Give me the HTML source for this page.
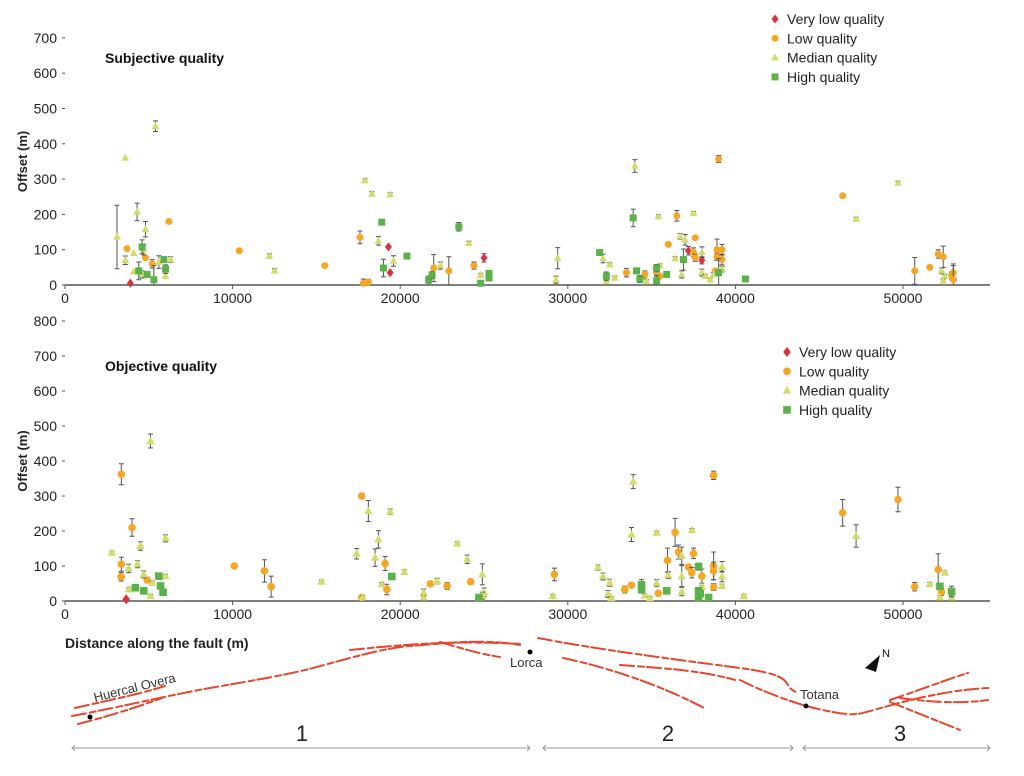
<!DOCTYPE html>
<html><head><meta charset="utf-8"><style>
body{margin:0;background:#fff;}
svg{display:block;font-family:"Liberation Sans",sans-serif;}
</style></head><body>
<svg id="fig" width="1024" height="776" viewBox="0 0 1024 776">
<g id="top"></g>
<g id="bot"></g>
<g id="map">
  <g fill="none" stroke="#e8452c" stroke-width="2" stroke-dasharray="14 4 6 3" stroke-linecap="round">
    <path d="M72,716 C130,705 170,695 210,688 S280,676 305,670 S380,648 410,646 S480,638 520,645"/>
    <path d="M75,708 C110,700 140,694 165,686"/>
    <path d="M78,724 C110,716 140,706 162,698"/>
    <path d="M350,650 C400,645 450,640 520,644"/>
    <path d="M440,642 C460,648 480,654 500,657"/>
    <path d="M538,638 C600,650 680,660 740,668 S780,685 796,692"/>
    <path d="M563,658 C620,670 670,690 704,708"/>
    <path d="M620,665 C660,668 700,670 735,680"/>
    <path d="M740,680 C760,690 780,698 806,706"/>
    <path d="M806,706 C830,712 845,715 857,714 S930,690 990,688"/>
    <path d="M890,700 C920,690 945,680 968,673"/>
    <path d="M890,702 C915,712 935,720 960,730"/>
    <path d="M900,698 C930,702 960,704 988,700"/>
  </g>
  <circle cx="90" cy="717" r="2.5" fill="#000"/>
  <text x="95" y="702" font-size="13" fill="#333" transform="rotate(-14 95 702)">Huercal Overa</text>
  <circle cx="530" cy="652" r="2.5" fill="#000"/>
  <text x="510" y="667" font-size="13" fill="#333">Lorca</text>
  <circle cx="806" cy="706" r="2.5" fill="#000"/>
  <text x="800" y="699" font-size="13" fill="#333">Totana</text>
  <path d="M865,668 L880,655 L876,672 Z" fill="#111"/>
  <text x="882" y="657" font-size="11" fill="#111">N</text>
  <g stroke="#999" stroke-width="1" fill="none">
    <path d="M72,748 H530 M75,745 L72,748 L75,751 M527,745 L530,748 L527,751"/>
    <path d="M543,748 H793 M546,745 L543,748 L546,751 M790,745 L793,748 L790,751"/>
    <path d="M803,748 H990 M806,745 L803,748 L806,751 M987,745 L990,748 L987,751"/>
  </g>
  <text x="302" y="741" font-size="22" text-anchor="middle" fill="#222">1</text>
  <text x="668" y="741" font-size="22" text-anchor="middle" fill="#222">2</text>
  <text x="900" y="741" font-size="22" text-anchor="middle" fill="#222">3</text>
</g>
<text x="65" y="648" font-size="14" font-weight="bold" fill="#222">Distance along the fault (m)</text>
</svg>
<script>
// values: [distance (m), offset (m), error half-width (m)]
const subjVeryLow = [[3900,5,0],[19300,108,0],[19400,35,0],[25000,77,12],[37200,97,12],[38000,70,10]];
const subjLow = [[3700,103,0],[4800,77,0],[5200,60,12],[6200,180,6],[10400,97,0],[15500,55,0],[17600,135,18],[17800,5,12],[18100,8,8],[22000,48,38],[22900,40,40],[24400,55,10],[33500,35,12],[34600,30,10],[35300,35,10],[36000,115,0],[36500,196,15],[37500,93,12],[37600,134,0],[37600,77,10],[38900,100,30],[38900,80,10],[39200,100,15],[39200,72,15],[38800,40,0],[39000,357,10],[35500,25,0],[46400,253,0],[50700,40,38],[51600,50,0],[52100,88,12],[52400,80,30],[52900,27,10],[53000,35,25],[53000,15,40]];
const subjMedian = [[3100,136,90],[3600,360,0],[3600,70,12],[4100,90,0],[4300,207,25],[4700,100,15],[4800,158,22],[4100,38,0],[4600,30,10],[5400,450,15],[5600,65,18],[6000,25,0],[6300,72,8],[12200,82,6],[12500,40,6],[17900,296,5],[18300,258,6],[18700,125,12],[19600,68,15],[19400,256,5],[22400,55,10],[24100,118,6],[24800,28,5],[29400,76,30],[29300,15,10],[32100,75,12],[32300,10,5],[32500,58,5],[32800,20,5],[34000,337,18],[34700,10,5],[35400,194,5],[35500,55,5],[36400,75,5],[36700,138,8],[36800,30,10],[37000,128,15],[37500,203,5],[38000,93,15],[38000,35,10],[38200,25,5],[38500,15,5],[38700,30,5],[39200,45,8],[47200,187,5],[49700,289,5],[52300,40,8],[52500,25,5],[52400,12,5]];
const subjHigh = [[4600,108,20],[4400,40,25],[4900,30,5],[5300,15,40],[5900,72,5],[6000,45,12],[18900,178,0],[19000,48,25],[20400,82,0],[21700,15,10],[21900,28,10],[23500,165,12],[24800,5,0],[25300,33,5],[25300,20,5],[31900,92,8],[32300,25,12],[33900,190,25],[34100,40,5],[34300,17,10],[35300,48,10],[35300,12,15],[35900,30,0],[36900,72,30],[39000,35,40],[40600,17,0]];

const objVeryLow = [[3650,5,0]];
const objLow = [[3360,362,30],[3360,105,20],[3350,69,12],[4000,210,25],[4900,60,8],[10100,100,6],[11900,86,32],[12300,41,30],[17700,300,8],[17700,10,6],[19100,107,20],[19200,33,15],[21800,49,5],[22800,43,10],[24200,55,8],[29200,76,18],[33400,33,10],[33800,45,5],[35400,22,5],[35950,116,35],[36400,196,40],[36600,140,20],[37200,97,5],[37400,81,15],[37500,136,15],[38000,71,20],[38700,359,12],[38700,100,40],[38700,86,25],[38700,40,10],[46400,252,38],[49700,290,35],[50700,41,12],[52100,90,45],[52300,26,10]];
const objMedian = [[2800,138,5],[3800,93,12],[3800,33,5],[4330,105,10],[4500,157,12],[4700,76,10],[5100,457,20],[5100,14,5],[5200,52,5],[6000,179,10],[6000,71,5],[15300,55,5],[17400,135,15],[17750,10,5],[18100,257,30],[18500,124,25],[18700,176,25],[18900,48,5],[19400,255,8],[20250,83,6],[21400,24,10],[21400,10,5],[22200,57,8],[23400,164,5],[24000,119,12],[24900,76,30],[25000,25,12],[24900,15,10],[29100,14,5],[31800,95,8],[32100,70,10],[32500,52,10],[32400,20,10],[32600,8,5],[33900,341,20],[33800,190,20],[34600,15,5],[34900,8,5],[35300,51,10],[35300,195,5],[36000,74,10],[36800,27,12],[36800,129,25],[36800,71,30],[37400,202,5],[38000,40,5],[39200,98,15],[39200,70,15],[39200,43,5],[40500,14,5],[47200,186,32],[51600,48,5],[52500,81,5],[52200,10,5],[52900,10,5]];
const objHigh = [[4200,38,5],[4700,29,5],[5600,71,5],[5700,43,5],[5850,25,5],[19500,70,5],[24700,10,5],[34400,46,15],[34400,33,10],[35900,29,5],[37800,98,10],[37800,29,10],[37900,21,10],[37800,10,5],[38400,10,5],[52200,42,5],[52900,27,15]];

const xTicks = [0,10000,20000,30000,40000,50000];
const topYTicks = [0,100,200,300,400,500,600,700];
const botYTicks = [0,100,200,300,400,500,600,700,800];
const legendLabels = ["Very low quality","Low quality","Median quality","High quality"];

const NS="http://www.w3.org/2000/svg";
function mk(tag, attrs, parent){const e=document.createElementNS(NS,tag);for(const k in attrs)e.setAttribute(k,attrs[k]);parent.appendChild(e);return e;}
const X0=65, X1=990;
function sx(v){return X0+v/50000*838;}
const colors=["#d9323f","#f7a623","#d3dc6b","#5bb24a"];

function marker(g,kind,cx,cy,r){
  let e;
  if(kind===0){e=mk('path',{d:`M${cx},${cy-r*1.3} L${cx+r},${cy} L${cx},${cy+r*1.3} L${cx-r},${cy} Z`,fill:colors[0]},g);}
  else if(kind===1){e=mk('circle',{cx:cx,cy:cy,r:r,fill:colors[1]},g);}
  else if(kind===2){e=mk('path',{d:`M${cx},${cy-r*1.2} L${cx+r*1.1},${cy+r*0.8} L${cx-r*1.1},${cy+r*0.8} Z`,fill:colors[2]},g);}
  else {e=mk('rect',{x:cx-r,y:cy-r,width:2*r,height:2*r,fill:colors[3]},g);}
  return e;
}

function chart(g, y0, pxPer100, yTicks, series, title, titleY, legX, legY, legStep, msize){
  function sy(v){return y0-v/100*pxPer100;}
  const ax=mk('line',{x1:X0,y1:y0,x2:X1,y2:y0,stroke:'#555','stroke-width':1.5},g);
  
  
  yTicks.forEach(t=>{
    const tl=mk('text',{x:57,y:sy(t)+5,'font-size':14,'text-anchor':'end',fill:'#222'},g);
    tl.textContent=t;
    
    
    mk('line',{x1:X0-3,y1:sy(t),x2:X0,y2:sy(t),stroke:'#555'},g);
  });
  xTicks.forEach(t=>{
    mk('line',{x1:sx(t),y1:y0,x2:sx(t),y2:y0+4,stroke:'#555'},g);
    const tl=mk('text',{x:sx(t),y:y0+18,'font-size':14,'text-anchor':'middle',fill:'#222'},g);
    tl.textContent=t;
    
    
  });
  const yt=mk('text',{x:0,y:0,'font-size':13,'font-weight':'bold','text-anchor':'middle',fill:'#222',transform:`translate(27,${sy(yTicks[yTicks.length-1]/2)}) rotate(-90)`},g);
  yt.textContent='Offset (m)';
  
  
  const tt=mk('text',{x:105,y:titleY,'font-size':14,'font-weight':'bold',fill:'#111'},g);
  tt.textContent=title;
  
  
  series.forEach((s,k)=>{
    s.forEach(p=>{
      const cx=sx(p[0]), cy=sy(p[1]);
      if(p[2]>0){
        const a=sy(Math.max(0,p[1]-p[2])), b=sy(p[1]+p[2]);
        const eb=mk('path',{d:`M${cx},${a} V${b} M${cx-2.5},${a} H${cx+2.5} M${cx-2.5},${b} H${cx+2.5}`,stroke:'#555','stroke-width':1,fill:'none'},g);
        
        
      }
      const m=marker(g,k,cx,cy,msize);
      
      
    });
  });
  legendLabels.forEach((l,k)=>{
    const m=marker(g,k,legX,legY+k*legStep,msize);
    
    
    const lt=mk('text',{x:legX+12,y:legY+k*legStep+5,'font-size':14,fill:'#222'},g);
    lt.textContent=l;
    
    
  });
}
chart(document.getElementById('top'),285,35.3,topYTicks,[subjVeryLow,subjLow,subjMedian,subjHigh],'Subjective quality',63,775,19,19.3,3.5);
chart(document.getElementById('bot'),601,35,botYTicks,[objVeryLow,objLow,objMedian,objHigh],'Objective quality',371,787,352,19.3,3.8);
</script>
</body></html>
